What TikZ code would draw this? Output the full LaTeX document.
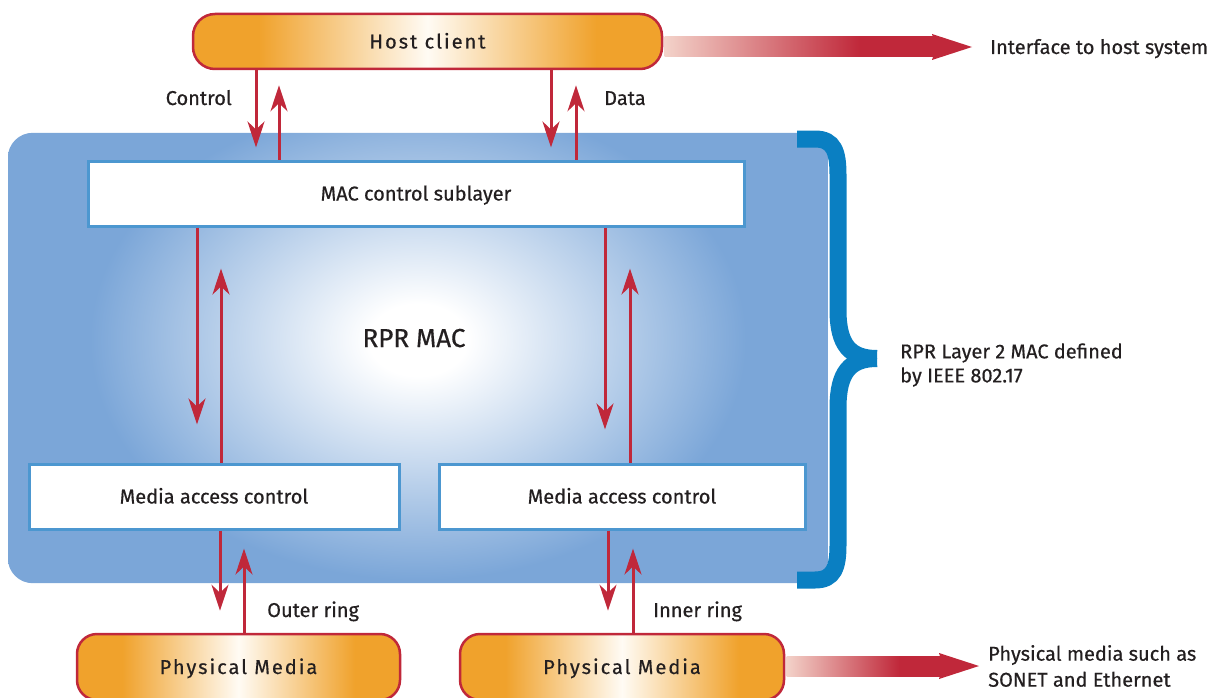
\documentclass[tikz,border=0pt]{standalone}
\usepackage{fontspec}
\setmainfont{Fira Sans}[FakeBold=0.5]
\newfontfamily\spacedfont{Fira Sans}[LetterSpace=10,FakeBold=0.5]
\usetikzlibrary{arrows.meta,calc}
\definecolor{redC}{HTML}{C0283A}
\definecolor{pinkL}{HTML}{F3D2C9}
\definecolor{orng}{HTML}{F0A22C}
\definecolor{cream}{HTML}{FFFBF4}
\definecolor{bluefill}{HTML}{7BA6D8}
\definecolor{boxblue}{HTML}{4C97D0}
\definecolor{braceblue}{HTML}{0A7FC2}
\definecolor{txt}{HTML}{231F20}
\pgfdeclarehorizontalshading{orangeh}{100bp}{color(0bp)=(orng); color(32bp)=(orng); color(50bp)=(cream); color(68bp)=(orng); color(100bp)=(orng)}
\pgfdeclarehorizontalshading{redh}{100bp}{color(0bp)=(pinkL); color(25bp)=(pinkL); color(61bp)=(redC); color(100bp)=(redC)}
\pgfdeclareradialshading{bluerad}{\pgfpoint{0bp}{0bp}}{color(0bp)=(white); color(3bp)=(white); color(20bp)=(bluefill); color(50bp)=(bluefill)}
\newcommand\fatarrow[2]{%
  \shade[shading=redh] ($(#1)+(0,-10)$) rectangle ($(#2)+(-36,10)$);
  \fill[redC] ($(#2)+(-40,-13)$) -- (#2) -- ($(#2)+(-40,13)$) -- ($(#2)+(-36,0)$) -- cycle;}
\tikzset{
  orangebox/.style={draw=redC, line width=2.5pt, rounded corners=22pt, shade, shading=orangeh, text=txt,
    font=\spacedfont\fontsize{20}{24}\selectfont, text height=14pt, text depth=0pt, inner sep=0pt},
  whitebox/.style={draw=boxblue, line width=3pt, fill=white, text=txt,
    font=\fontsize{20}{24}\selectfont, text height=14pt, text depth=0pt, inner sep=0pt},
  bluebox/.style={rounded corners=25pt, inner sep=0pt},
  lbl/.style={text=txt, font=\fontsize{20}{24}\selectfont, inner sep=0pt},
  arr/.style={draw=redC, line width=3pt, -{Stealth[length=26pt,width=17pt,inset=8pt]}},
  brace/.style={draw=braceblue, line width=17pt},
}
\begin{document}
\begin{tikzpicture}[x=1pt,y=-1pt]
\useasboundingbox (0,0) rectangle (1217,698);
\clip (0,0) rectangle (1217,698);

% RPR MAC block
\node[bluebox, minimum width=820pt, minimum height=450pt] (rpr) at (418,358) {};
\begin{scope}
  \clip[rounded corners=25pt] (rpr.north west) rectangle (rpr.south east);
  \shade[shading=bluerad] (8,40) rectangle (828,640);
\end{scope}
\node[lbl, anchor=base, font=\fontsize{26}{30}\selectfont] (rprl) at (414,347) {RPR MAC};

% brace
\draw[brace] (797,139) -- (815,139) .. controls (834,139) and (838,152) .. (838,175) -- (838,310) .. controls (838,345) and (850,358.5) .. (877,358.5);
\draw[brace] (797,580) -- (815,580) .. controls (834,580) and (838,567) .. (838,545) -- (838,408) .. controls (838,372) and (850,358.5) .. (877,358.5);
\node[lbl, anchor=west, align=left] (ieee) at (900,365) {RPR Layer 2 MAC defined\\by IEEE 802.17};

% boxes
\node[orangebox, minimum width=469pt, minimum height=55pt] (host) at (427.5,41.5) {Host client};
\node[whitebox, minimum width=656pt, minimum height=65pt] (mac) at (416,193.5) {MAC control sublayer};
\node[whitebox, minimum width=370pt, minimum height=65pt] (macL) at (214,496.5) {Media access control};
\node[whitebox, minimum width=366pt, minimum height=65pt] (macR) at (622,496.5) {Media access control};
\node[orangebox, minimum width=323pt, minimum height=66pt, rounded corners=20pt] (physL) at (238.5,667) {Physical Media};
\node[orangebox, minimum width=324pt, minimum height=66pt, rounded corners=20pt] (physR) at (622,667) {Physical Media};

% fat arrows
\coordinate (itip) at (972,47);
\coordinate (istart) at ($(host.east |- itip)+(1.3,0)$);
\fatarrow{istart}{itip}
\node[lbl, anchor=base west] (iface) at (990,54) {Interface to host system};
\coordinate (ptip) at (979,666);
\coordinate (pstart) at ($(physR.east |- ptip)+(1.3,0)$);
\fatarrow{pstart}{ptip}
\node[lbl, anchor=west, align=left, font=\fontsize{20}{26}\selectfont] (sonet) at (988,666) {Physical media such as\\SONET and Ethernet};

% host <-> mac
\draw[arr, shorten >=12pt] (host.south -| 256,0) -- (mac.north -| 256,0);
\draw[arr, shorten >=15pt] (mac.north -| 279,0) -- (host.south -| 279,0);
\draw[arr, shorten >=12pt] (host.south -| 551,0) -- (mac.north -| 551,0);
\draw[arr, shorten >=15pt] (mac.north -| 576,0) -- (host.south -| 576,0);
\node[lbl, anchor=base east] (ctl) at (232,105) {Control};
\node[lbl, anchor=base west] (dat) at (604,105) {Data};

% mac <-> media access
\draw[arr, shorten >=38pt] (mac.south -| 197,0) -- (macL.north -| 197,0);
\draw[arr, shorten >=41pt] (macL.north -| 221,0) -- (mac.south -| 221,0);
\draw[arr, shorten >=33pt] (mac.south -| 605,0) -- (macR.north -| 605,0);
\draw[arr, shorten >=41pt] (macR.north -| 630,0) -- (mac.south -| 630,0);

% media access <-> physical
\draw[arr, shorten >=22pt] (macL.south -| 220,0) -- (physL.north -| 220,0);
\draw[arr, shorten >=18pt] (physL.north -| 244,0) -- (macL.south -| 244,0);
\draw[arr, shorten >=22pt] (macR.south -| 608,0) -- (physR.north -| 608,0);
\draw[arr, shorten >=18pt] (physR.north -| 633,0) -- (macR.south -| 633,0);
\node[lbl, anchor=base west] (outer) at (267,617) {Outer ring};
\node[lbl, anchor=base west] (inner) at (653,617) {Inner ring};
\end{tikzpicture}
\end{document}
